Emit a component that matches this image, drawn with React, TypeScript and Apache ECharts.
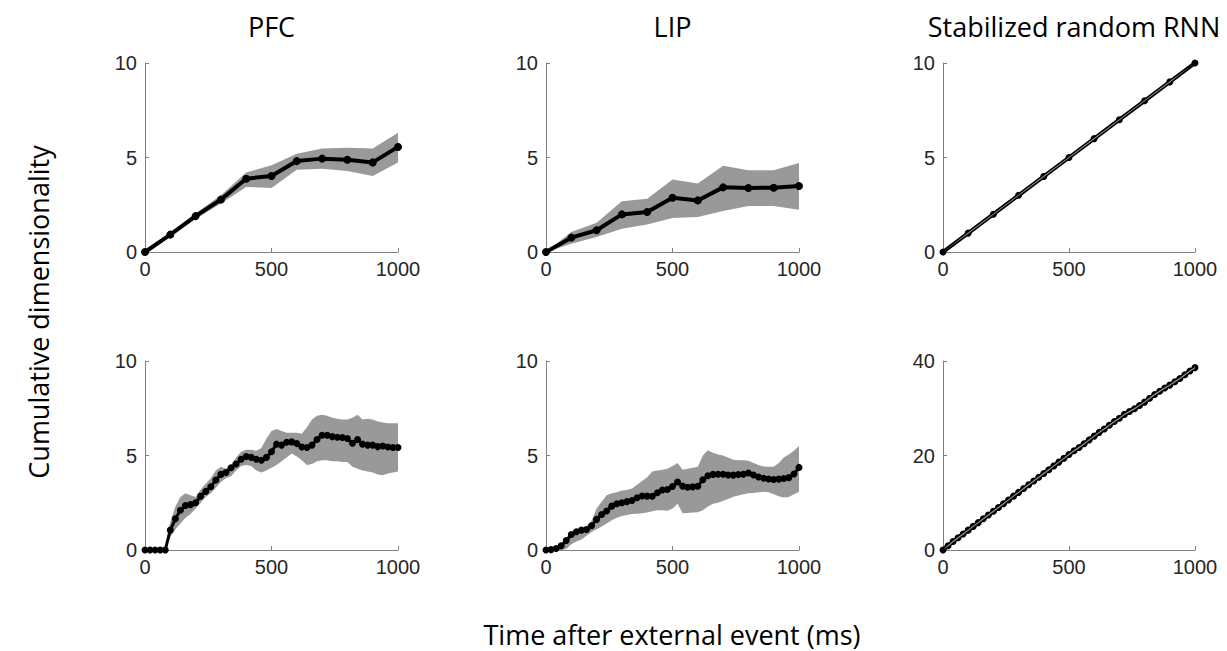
import React, { useEffect, useRef } from "react";
import * as echarts from "echarts";

// ---- Data ----
const topX = [0, 100, 200, 300, 400, 500, 600, 700, 800, 900, 1000];
const bottomX = [
  0, 20, 40, 60, 80, 100, 120, 140, 160, 180, 200, 220, 240, 260, 280, 300, 320, 340, 360, 380, 400,
  420, 440, 460, 480, 500, 520, 540, 560, 580, 600, 620, 640, 660, 680, 700, 720, 740, 760, 780, 800,
  820, 840, 860, 880, 900, 920, 940, 960, 980, 1000,
];

const pfcTopMean = [0, 0.92, 1.9, 2.77, 3.88, 4.02, 4.81, 4.94, 4.88, 4.74, 5.56];
const pfcTopUpper = [0, 1.02, 2.05, 3.0, 4.2, 4.59, 5.2, 5.47, 5.52, 5.47, 6.31];
const pfcTopLower = [0, 0.82, 1.75, 2.56, 3.44, 3.39, 4.35, 4.41, 4.29, 4.02, 4.73];

const lipTopMean = [0, 0.76, 1.15, 1.99, 2.12, 2.87, 2.73, 3.42, 3.39, 3.4, 3.49];
const lipTopUpper = [0, 1.06, 1.55, 2.68, 2.82, 3.83, 3.62, 4.57, 4.32, 4.32, 4.71];
const lipTopLower = [0, 0.44, 0.79, 1.23, 1.45, 1.8, 1.85, 2.17, 2.43, 2.43, 2.24];

const rnnTopMean = [0, 1, 2, 3, 4, 5, 6, 7, 8, 9, 10];
const rnnTopUpper = [0, 1.03, 2.03, 3.03, 4.03, 5.03, 6.03, 7.03, 8.03, 9.03, 10.0];
const rnnTopLower = [0, 0.97, 1.97, 2.97, 3.97, 4.97, 5.97, 6.97, 7.97, 8.97, 10.0];

const pfcBotMean = [
  0, 0, 0, 0, 0, 1.05, 1.65, 2.1, 2.35, 2.4, 2.5, 2.85, 3.1, 3.35, 3.7, 4.0, 4.1, 4.35, 4.55, 4.8, 4.95,
  4.9, 4.8, 4.75, 4.9, 5.2, 5.6, 5.55, 5.7, 5.72, 5.63, 5.45, 5.42, 5.55, 5.85, 6.07, 6.07, 6.0, 5.97, 5.95, 5.9,
  5.65, 5.85, 5.6, 5.55, 5.55, 5.47, 5.5, 5.45, 5.42, 5.42,
];
const pfcBotUpper = [
  0, 0, 0, 0.05, 0.2, 1.5, 2.3, 2.8, 3.0, 2.9, 2.8, 3.2, 3.5, 3.8, 4.2, 4.4, 4.3, 4.5, 4.9, 5.2, 5.3,
  5.3, 5.25, 5.4, 5.9, 6.3, 6.4, 6.3, 6.2, 6.2, 6.2, 6.15, 6.5, 6.9, 7.1, 7.15, 7.1, 7.0, 6.95, 6.9, 6.9,
  7.0, 7.15, 6.9, 6.95, 6.9, 6.8, 6.75, 6.7, 6.7, 6.7,
];
const pfcBotLower = [
  0, 0, 0, 0, 0, 0.7, 1.1, 1.4, 1.7, 1.9, 2.2, 2.5, 2.8, 3.0, 3.3, 3.6, 3.8, 3.9, 4.2, 4.45, 4.5,
  4.45, 4.2, 4.1, 4.2, 4.35, 4.5, 4.7, 4.9, 5.1, 4.95, 4.75, 4.5, 4.55, 4.7, 4.75, 4.75, 4.7, 4.7, 4.65, 4.65,
  4.4, 4.3, 4.2, 4.15, 4.1, 4.0, 3.95, 4.05, 4.1, 4.15,
];

const lipBotMean = [
  0, 0.02, 0.08, 0.22, 0.5, 0.82, 0.97, 1.05, 1.08, 1.28, 1.62, 1.88, 2.06, 2.32, 2.45, 2.5, 2.56, 2.62, 2.76, 2.86, 2.85,
  2.84, 3.03, 3.17, 3.2, 3.36, 3.6, 3.38, 3.32, 3.34, 3.37, 3.72, 3.93, 4.0, 4.01, 4.01, 3.97, 3.96, 3.99, 4.01, 4.07,
  3.97, 3.86, 3.8, 3.76, 3.73, 3.75, 3.78, 3.83, 4.02, 4.37,
];
const lipBotUpper = [
  0, 0.1, 0.2, 0.35, 0.6, 0.95, 1.05, 1.1, 1.25, 1.55, 2.2, 2.55, 2.9, 3.0, 3.05, 3.15, 3.18, 3.25, 3.45, 3.65, 3.85,
  4.15, 4.2, 4.25, 4.3, 4.45, 4.6, 4.25, 4.3, 4.35, 4.4, 5.0, 5.28, 5.15, 5.05, 5.0, 4.9, 4.78, 4.75, 4.75, 4.72,
  4.6, 4.5, 4.42, 4.4, 4.4, 4.6, 4.9, 5.05, 5.25, 5.5,
];
const lipBotLower = [
  0, 0, 0, 0, 0.05, 0.3, 0.45, 0.55, 0.75, 0.95, 1.1, 1.25, 1.4, 1.58, 1.7, 1.8, 1.85, 1.9, 1.92, 1.94, 1.98,
  2.05, 2.1, 2.1, 2.08, 2.2, 2.45, 1.95, 1.96, 1.98, 2.0, 2.1, 2.3, 2.45, 2.5, 2.6, 2.7, 2.82, 2.88, 2.95, 3.0,
  3.02, 3.05, 3.08, 3.05, 2.95, 2.85, 2.78, 2.8, 2.95, 3.08,
];

const rnnBotMean = [
  0, 0.9, 1.8, 2.6, 3.4, 4.2, 5.0, 5.8, 6.6, 7.4, 8.2, 9.0, 9.8, 10.6, 11.4, 12.2, 13.0, 13.8, 14.6, 15.4, 16.2,
  17.0, 17.8, 18.6, 19.4, 20.2, 21.0, 21.7, 22.5, 23.3, 24.1, 24.9, 25.6, 26.4, 27.2, 27.9, 28.7, 29.3, 29.9, 30.6, 31.3,
  32.1, 32.9, 33.6, 34.3, 34.9, 35.6, 36.3, 37.1, 37.9, 38.6,
];
const rnnBotUpper = [
  0, 1.05, 1.95, 2.75, 3.55, 4.35, 5.15, 5.95, 6.75, 7.55, 8.35, 9.15, 9.95, 10.75, 11.55, 12.35, 13.15, 13.95, 14.75, 15.55, 16.35,
  17.15, 17.95, 18.75, 19.55, 20.35, 21.15, 21.85, 22.65, 23.45, 24.25, 25.05, 25.75, 26.55, 27.35, 28.05, 28.85, 29.45, 30.05, 30.75, 31.45,
  32.25, 33.05, 33.75, 34.45, 35.05, 35.75, 36.45, 37.25, 38.05, 38.75,
];
const rnnBotLower = [
  0, 0.75, 1.65, 2.45, 3.25, 4.05, 4.85, 5.65, 6.45, 7.25, 8.05, 8.85, 9.65, 10.45, 11.25, 12.05, 12.85, 13.65, 14.45, 15.25, 16.05,
  16.85, 17.65, 18.45, 19.25, 20.05, 20.85, 21.55, 22.35, 23.15, 23.95, 24.75, 25.45, 26.25, 27.05, 27.75, 28.55, 29.15, 29.75, 30.45, 31.15,
  31.95, 32.75, 33.45, 34.15, 34.75, 35.45, 36.15, 36.95, 37.75, 38.45,
];

const panelTitles = ["PFC", "LIP", "Stabilized random RNN"];
const yTicksSmall = { min: 0, max: 10, interval: 5 };
const yTicksLarge = { min: 0, max: 40, interval: 20 };
const xTicks = { min: 0, max: 1000, interval: 500 };
const xLabel = "Time after external event (ms)";
const yLabel = "Cumulative dimensionality";

// ---- Layout ----
const gridBoxes = [
  { left: 145, top: 63, width: 253, height: 189 },
  { left: 546, top: 63, width: 253, height: 189 },
  { left: 943, top: 63, width: 252, height: 189 },
  { left: 145, top: 361, width: 253, height: 189 },
  { left: 546, top: 361, width: 253, height: 189 },
  { left: 943, top: 361, width: 252, height: 189 },
];

const panels = [
  { x: topX, mean: pfcTopMean, up: pfcTopUpper, lo: pfcTopLower, y: yTicksSmall, lw: 4, sym: 8, bandOnTop: false },
  { x: topX, mean: lipTopMean, up: lipTopUpper, lo: lipTopLower, y: yTicksSmall, lw: 4, sym: 8, bandOnTop: false },
  { x: topX, mean: rnnTopMean, up: rnnTopUpper, lo: rnnTopLower, y: yTicksSmall, lw: 4, sym: 7, bandOnTop: true },
  { x: bottomX, mean: pfcBotMean, up: pfcBotUpper, lo: pfcBotLower, y: yTicksSmall, lw: 3, sym: 7, bandOnTop: false },
  { x: bottomX, mean: lipBotMean, up: lipBotUpper, lo: lipBotLower, y: yTicksSmall, lw: 3, sym: 7, bandOnTop: false },
  { x: bottomX, mean: rnnBotMean, up: rnnBotUpper, lo: rnnBotLower, y: yTicksLarge, lw: 4, sym: 7, bandOnTop: true },
];

const AXIS_COLOR = "#808080";
const LABEL_COLOR = "#262626";
const TICK_FONT = "'Liberation Sans', Arial, Helvetica, sans-serif";
const TITLE_FONT = "'Open Sans', 'Noto Sans', sans-serif";
const TITLE_SIZE = 27;

function buildOption() {
  const grid = gridBoxes.map((g) => ({ ...g, containLabel: false }));
  const axisCommon = {
    axisLine: { show: true, lineStyle: { color: AXIS_COLOR, width: 1 } },
    axisTick: { show: true, inside: true, length: 4, lineStyle: { color: AXIS_COLOR } },
    splitLine: { show: false },
    axisLabel: {
      fontSize: 20,
      color: LABEL_COLOR,
      fontFamily: TICK_FONT,
      formatter: (v: number) => String(v),
    },
  };
  const xAxis = panels.map((p, i) => ({
    type: "value",
    gridIndex: i,
    ...xTicks,
    ...axisCommon,
    axisLabel: { ...axisCommon.axisLabel, margin: 7 },
  }));
  const yAxis = panels.map((p, i) => ({
    type: "value",
    gridIndex: i,
    ...p.y,
    ...axisCommon,
    axisLabel: { ...axisCommon.axisLabel, margin: 8 },
  }));

  const series: any[] = [];
  panels.forEach((p, i) => {
    const bandData = p.x.map((x, k) => [x, p.lo[k], p.up[k]]);
    const fill = p.bandOnTop ? "#9a9a9a" : "#999999";
    series.push({
      type: "custom",
      xAxisIndex: i,
      yAxisIndex: i,
      data: bandData,
      encode: { x: 0, y: [1, 2] },
      z: p.bandOnTop ? 5 : 1,
      silent: true,
      clip: false,
      renderItem: (params: any, api: any) => {
        if (params.dataIndex !== 0) return null;
        const upperPts = bandData.map((d) => api.coord([d[0], d[2]]));
        const lowerPts = bandData.map((d) => api.coord([d[0], d[1]])).reverse();
        return {
          type: "polygon",
          shape: { points: upperPts.concat(lowerPts) },
          style: { fill, stroke: "none" },
        };
      },
    });
    series.push({
      type: "line",
      xAxisIndex: i,
      yAxisIndex: i,
      symbol: "circle",
      symbolSize: p.sym,
      showSymbol: true,
      itemStyle: { color: "#000000" },
      lineStyle: { color: "#000000", width: p.lw },
      data: p.x.map((x, k) => [x, p.mean[k]]),
      z: 3,
      clip: false,
    });
  });

  const graphic: any[] = [];
  panelTitles.forEach((t, i) => {
    const g = gridBoxes[i];
    graphic.push({
      type: "text",
      x: g.left + g.width / 2 + (i === 2 ? 5 : 0),
      y: 26,
      style: {
        text: t,
        fill: "#000000",
        font: `${TITLE_SIZE}px ${TITLE_FONT}`,
        textAlign: "center",
        textVerticalAlign: "middle",
      },
    });
  });
  graphic.push({
    type: "text",
    x: 672,
    y: 634,
    style: {
      text: xLabel,
      fill: "#000000",
      font: `${TITLE_SIZE}px ${TITLE_FONT}`,
      textAlign: "center",
      textVerticalAlign: "middle",
    },
  });
  graphic.push({
    type: "text",
    x: 38,
    y: 312,
    rotation: Math.PI / 2,
    style: {
      text: yLabel,
      fill: "#000000",
      font: `${TITLE_SIZE}px ${TITLE_FONT}`,
      textAlign: "center",
      textVerticalAlign: "middle",
    },
  });

  return {
    animation: false,
    backgroundColor: "#ffffff",
    grid,
    xAxis,
    yAxis,
    series,
    graphic,
  };
}

export default function App() {
  const ref = useRef<HTMLDivElement>(null);
  useEffect(() => {
    if (!ref.current) return;
    const chart = echarts.init(ref.current, undefined, { renderer: "svg" });
    chart.setOption(buildOption() as any);
    return () => chart.dispose();
  }, []);
  return (
    <div
      ref={ref}
      style={{ position: "fixed", left: 0, top: 0, width: 1227, height: 651, background: "#fff" }}
    />
  );
}
